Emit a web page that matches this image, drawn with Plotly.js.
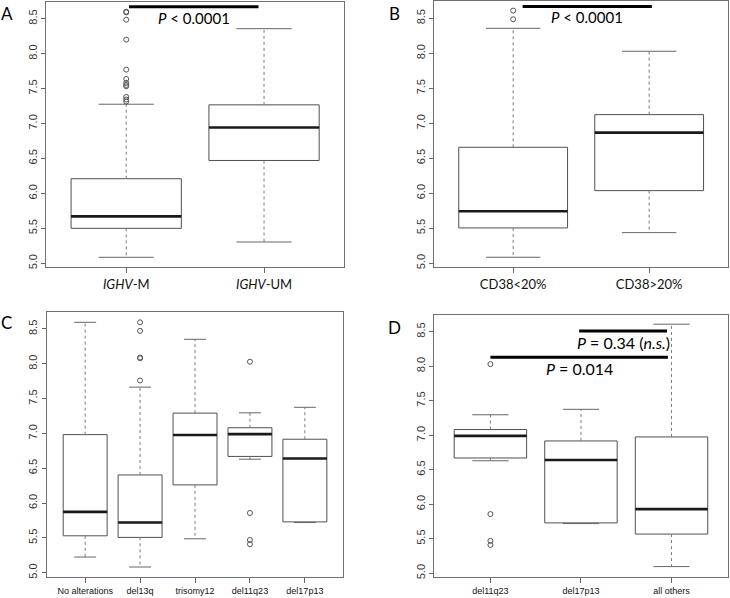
<!DOCTYPE html>
<html><head><meta charset="utf-8">
<script src="https://cdn.plot.ly/plotly-3.0.1.min.js"></script>
<style>html,body{margin:0;padding:0;background:#fff}#chart{width:730px;height:598px}</style>
</head><body><div id="chart"></div>
<script>
// ---------- Panel A : IGHV status ----------
const catsA = ['<i>IGHV</i>-M', '<i>IGHV</i>-UM'];
const lowA  = [5.086, 5.305];
const q1A   = [5.500, 6.471];
const medA  = [5.671, 6.943];
const q3A   = [6.210, 7.267];
const highA = [7.276, 8.357];
const outGroupA = [1, 1, 1, 1, 1, 1, 1, 1, 1, 1, 1, 1];
const outValA   = [8.600, 8.590, 8.486, 8.200, 7.771, 7.638, 7.581, 7.552, 7.533, 7.381, 7.343, 7.314];
const sigA = {from: [1.02], to: [1.96], level: [8.67], label: ['<i>P</i> &lt; 0.0001']};

// ---------- Panel B : CD38 ----------
const catsB = ['CD38&lt;20%', 'CD38&gt;20%'];
const lowB  = [5.086, 5.438];
const q1B   = [5.505, 6.038];
const medB  = [5.743, 6.867];
const q3B   = [6.657, 7.124];
const highB = [8.357, 8.029];
const outGroupB = [1, 1];
const outValB   = [8.610, 8.486];
const sigB = {from: [1.07], to: [2.02], level: [8.67], label: ['<i>P</i> &lt; 0.0001']};

// ---------- Panel C : cytogenetics ----------
const catsC = ['No alterations', 'del13q', 'trisomy12', 'del11q23', 'del17p13'];
const lowC  = [5.225, 5.082, 5.487, 6.630, 5.720];
const q1C   = [5.530, 5.507, 6.261, 6.670, 5.730];
const medC  = [5.874, 5.722, 6.977, 6.990, 6.640];
const q3C   = [6.983, 6.404, 7.292, 7.082, 6.917];
const highC = [8.596, 7.665, 8.352, 7.296, 7.375];
const outGroupC = [2, 2, 2, 2, 2, 4, 4, 4, 4];
const outValC   = [8.596, 8.473, 8.080, 8.090, 7.760, 8.030, 5.858, 5.470, 5.410];

// ---------- Panel D : high-risk vs others ----------
const catsD = ['del11q23', 'del17p13', 'all others'];
const lowD  = [6.630, 5.720, 5.097];
const q1D   = [6.670, 5.730, 5.568];
const medD  = [6.990, 6.640, 5.929];
const q3D   = [7.082, 6.917, 6.975];
const highD = [7.296, 7.375, 8.608];
const outGroupD = [1, 1, 1, 1];
const outValD   = [8.030, 5.858, 5.470, 5.410];
const sigD = {from: [1.00, 1.98], to: [2.96, 2.95], level: [8.13, 8.51],
              label: ['<i>P</i> = 0.014', '<i>P</i> = 0.34 (<i>n.s.</i>)']};

// ---------- styles ----------
const BOX_COL = '#505050', WHISK_COL = '#7a7a7a', CAP_COL = '#666666', MED_COL = '#1a1a1a', OUT_COL = '#555555';
const BOX_W = 0.8, CAP_HALF = 0.2;

function panelTraces(ax, ay, low, q1, med, q3, high, outG, outV) {
  const xs = q1.map((_, i) => i + 1);
  const traces = [];
  traces.push({type: 'box', x: xs, q1: q1, median: med, q3: q3, lowerfence: q1, upperfence: q3,
    width: BOX_W, whiskerwidth: 0, fillcolor: '#ffffff', line: {color: BOX_COL, width: 1},
    boxpoints: false, hoverinfo: 'skip', showlegend: false, xaxis: ax, yaxis: ay});
  const wx = [], wy = [], cx = [], cy = [], mx = [], my = [];
  xs.forEach((x, i) => {
    wx.push(x, x, null, x, x, null); wy.push(q3[i], high[i], null, q1[i], low[i], null);
    cx.push(x - CAP_HALF, x + CAP_HALF, null, x - CAP_HALF, x + CAP_HALF, null);
    cy.push(high[i], high[i], null, low[i], low[i], null);
    mx.push(x - BOX_W / 2, x + BOX_W / 2, null); my.push(med[i], med[i], null);
  });
  traces.push({type: 'scatter', mode: 'lines', x: wx, y: wy, line: {color: WHISK_COL, width: 1, dash: '3px,3px'},
    hoverinfo: 'skip', showlegend: false, xaxis: ax, yaxis: ay});
  traces.push({type: 'scatter', mode: 'lines', x: cx, y: cy, line: {color: CAP_COL, width: 1},
    hoverinfo: 'skip', showlegend: false, xaxis: ax, yaxis: ay});
  traces.push({type: 'scatter', mode: 'lines', x: mx, y: my, line: {color: MED_COL, width: 2.6},
    hoverinfo: 'skip', showlegend: false, xaxis: ax, yaxis: ay});
  traces.push({type: 'scatter', mode: 'markers', x: outG, y: outV,
    marker: {symbol: 'circle-open', size: 5, color: OUT_COL, line: {width: 1, color: OUT_COL}},
    hoverinfo: 'skip', showlegend: false, xaxis: ax, yaxis: ay});
  return traces;
}

const data = [].concat(
  panelTraces('x', 'y', lowA, q1A, medA, q3A, highA, outGroupA, outValA),
  panelTraces('x2', 'y2', lowB, q1B, medB, q3B, highB, outGroupB, outValB),
  panelTraces('x3', 'y3', lowC, q1C, medC, q3C, highC, outGroupC, outValC),
  panelTraces('x4', 'y4', lowD, q1D, medD, q3D, highD, outGroupD, outValD)
);

const Y_RANGE = [4.94, 8.74];
function xAxis(domain, cats, anchor, fontSize, family) {
  const n = cats.length, pad = 0.04 * n;
  return {domain: domain, anchor: anchor, range: [0.5 - pad, n + 0.5 + pad],
    tickvals: cats.map((_, i) => i + 1), ticktext: cats, ticks: 'outside', ticklen: 5,
    tickcolor: '#666', tickwidth: 1, showline: true, linecolor: '#707070', linewidth: 1, mirror: true,
    showgrid: false, zeroline: false, fixedrange: true,
    tickfont: {family: family, size: fontSize, color: '#111'}};
}
function yAxis(domain, anchor) {
  return {domain: domain, anchor: anchor, range: Y_RANGE, tick0: 5, dtick: 0.5, tickformat: '.1f',
    ticks: 'outside', ticklen: 4, tickcolor: '#666', tickwidth: 1, tickangle: -90,
    showline: true, linecolor: '#707070', linewidth: 1, mirror: true,
    showgrid: false, zeroline: false, fixedrange: true,
    tickfont: {family: 'Liberation Sans, Arial, sans-serif', size: 11, color: '#333'}};
}

const shapes = [], annotations = [];
function addSig(sig, ax, ay, size) {
  sig.from.forEach((f, i) => {
    shapes.push({type: 'line', xref: ax, yref: ay, x0: f, x1: sig.to[i], y0: sig.level[i], y1: sig.level[i],
      line: {color: '#000', width: 3}});
    annotations.push({xref: ax, yref: ay, x: (f + sig.to[i]) / 2, y: sig.level[i], text: sig.label[i],
      showarrow: false, xanchor: 'center', yanchor: 'top', yshift: 0,
      font: {family: 'Lato, Carlito, sans-serif', size: size, color: '#000'}});
  });
}
addSig(sigA, 'x', 'y', 15);
addSig(sigB, 'x2', 'y2', 15);
addSig(sigD, 'x4', 'y4', 16);

const panelLetters = ['A', 'B', 'C', 'D'];
const letterPos = [[0.010, 0.978], [0.540, 0.978], [0.009, 0.461], [0.540, 0.453]];
panelLetters.forEach((L, i) => annotations.push({xref: 'paper', yref: 'paper', x: letterPos[i][0], y: letterPos[i][1],
  text: L, showarrow: false, xanchor: 'center', yanchor: 'middle',
  font: {family: 'Lato, Carlito, sans-serif', size: 17, color: '#000'}}));

const layout = {
  width: 730, height: 598, margin: {l: 0, r: 0, t: 0, b: 0},
  paper_bgcolor: '#fff', plot_bgcolor: '#fff', showlegend: false,
  xaxis:  xAxis([0.0634, 0.4712], catsA, 'y',  13, 'Lato, Carlito, sans-serif'),
  yaxis:  yAxis([0.5527, 0.9968], 'x'),
  xaxis2: xAxis([0.5949, 0.9973], catsB, 'y2', 13, 'Lato, Carlito, sans-serif'),
  yaxis2: yAxis([0.5527, 0.9975], 'x2'),
  xaxis3: xAxis([0.0640, 0.4703], catsC, 'y3', 9, 'Liberation Sans, Arial, sans-serif'),
  yaxis3: yAxis([0.0353, 0.4778], 'x3'),
  xaxis4: xAxis([0.5949, 0.9968], catsD, 'y4', 9, 'Liberation Sans, Arial, sans-serif'),
  yaxis4: yAxis([0.0344, 0.4731], 'x4'),
  shapes: shapes, annotations: annotations
};

Plotly.newPlot('chart', data, layout, {staticPlot: true, displayModeBar: false});
</script>
</body></html>
